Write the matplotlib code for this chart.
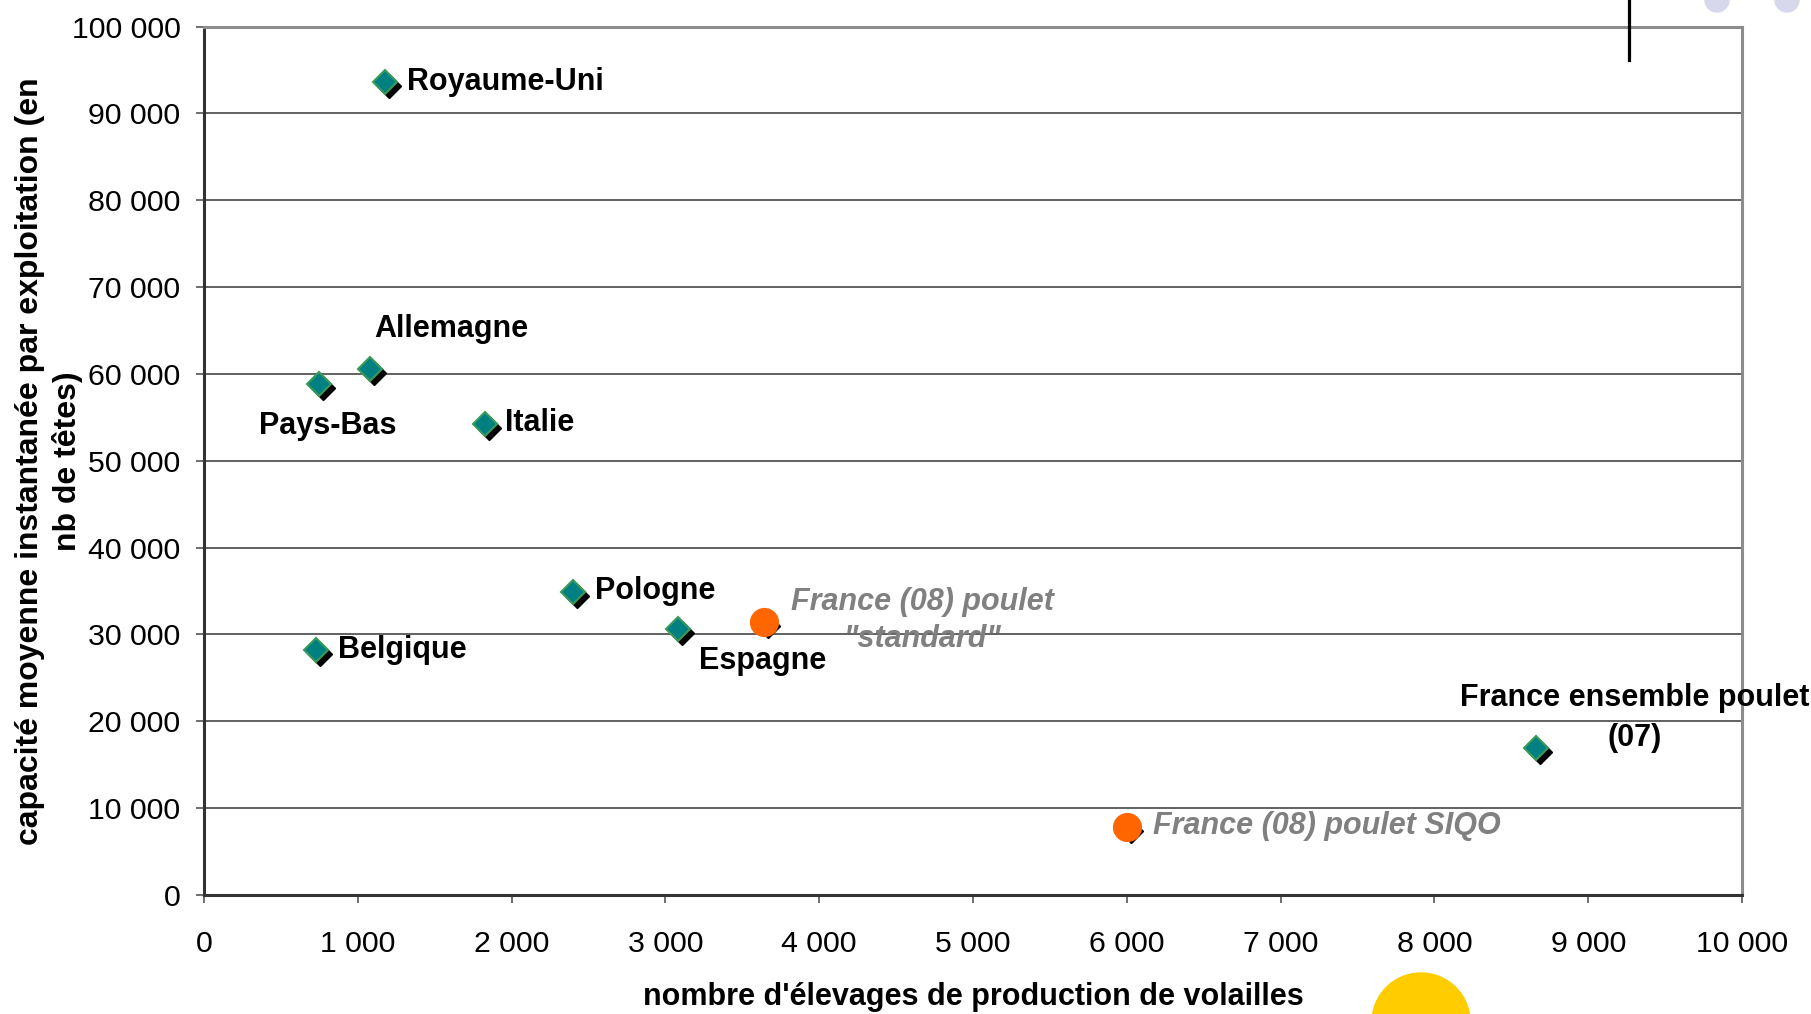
import matplotlib
matplotlib.use("Agg")
import matplotlib.pyplot as plt
import matplotlib.transforms as mtransforms
from matplotlib.patches import Circle
from matplotlib.lines import Line2D

plt.rcParams['font.family'] = ['Liberation Sans', 'DejaVu Sans']

# ---- data ----
countries = ["Royaume-Uni", "Allemagne", "Pays-Bas", "Italie", "Pologne",
             "Espagne", "Belgique", "France ensemble poulet\n(07)"]
n_farms = [1180, 1080, 750, 1830, 2400, 3080, 730, 8660]
capacity = [93600, 60600, 58900, 54200, 34900, 30600, 28200, 16900]

france08_labels = ["France (08) poulet\n\"standard\"", "France (08) poulet SIQO"]
france08_farms = [3640, 6000]
france08_capacity = [31400, 7800]

# label anchor positions (data coords) and alignment
label_pos = [(1320, 93600, 'left'), (1110, 65200, 'left'), (360, 54000, 'left'),
             (1960, 54300, 'left'), (2540, 35000, 'left'), (3220, 26900, 'left'),
             (870, 28200, 'left'), (9300, 20400, 'center')]
f08_label_pos = [(4670, 31600, 'center'), (6170, 7900, 'left')]

xticks = list(range(0, 10001, 1000))
yticks = list(range(0, 100001, 10000))

def fmt(v):
    return f"{v:,}".replace(",", " ")

W, H = 1811, 1014
fig = plt.figure(figsize=(W / 100, H / 100), dpi=100)
ax = fig.add_axes([204 / W, 1 - 895 / H, (1742 - 204) / W, (895 - 26.6) / H])

ax.set_xlim(0, 10000)
ax.set_ylim(0, 100000)
ax.set_xticks(xticks)
ax.set_yticks(yticks)
ax.set_xticklabels([fmt(v) for v in xticks], fontsize=21.8)
ax.set_yticklabels([fmt(v) for v in yticks], fontsize=21.8)
ax.tick_params(axis='x', direction='out', length=6, width=1.2, color='#555555', pad=19)
ax.tick_params(axis='y', direction='out', length=6, width=1.2, color='#555555', pad=11)
ax.yaxis.grid(True, color='#555555', lw=1.3)
ax.set_axisbelow(True)
for s in ax.spines.values():
    s.set_color('#8c8c8c')
    s.set_linewidth(2.2)
ax.spines['left'].set_color('#333333')
ax.spines['bottom'].set_color('#333333')

# shadow offset
shadow = ax.transData + mtransforms.ScaledTranslation(4 / 100, -4 / 100, fig.dpi_scale_trans)
all_x = n_farms + france08_farms
all_y = capacity + france08_capacity
ax.plot(all_x, all_y, ls='none', marker='D', ms=12.5, mfc='black', mec='black',
        transform=shadow, zorder=3, clip_on=False)
ax.plot(all_x, all_y, ls='none', marker='D', ms=12.5, mfc='#008080', mec='#3a9a5c',
        mew=1.5, zorder=4, clip_on=False)
ax.plot(france08_farms, france08_capacity, ls='none', marker='o', ms=20,
        mfc='#ff6600', mec='#ff6600', zorder=5, clip_on=False)

for lab, (x, y, ha) in zip(countries, label_pos):
    ax.text(x, y, lab, ha=ha, va='center', fontsize=22, fontweight='bold',
            color='black', multialignment='center', linespacing=1.42, clip_on=False, zorder=6)
for lab, (x, y, ha) in zip(france08_labels, f08_label_pos):
    ax.text(x, y, lab, ha=ha, va='center', fontsize=22, fontweight='bold',
            fontstyle='italic', color='#808080', multialignment='center',
            linespacing=1.32, clip_on=False, zorder=6)

fig.text(973 / W, 1 - 997 / H, "nombre d'élevages de production de volailles",
         ha='center', va='center', fontsize=22, fontweight='bold')
fig.text(49 / W, 1 - 461 / H,
         "capacité moyenne instantanée par exploitation (en\nnb de têtes)",
         ha='center', va='center', rotation=90, fontsize=23, fontweight='bold',
         multialignment='center', linespacing=1.3)

# decorations (pixel coords)
ident = mtransforms.IdentityTransform()
fig.add_artist(Line2D([1629, 1629], [H, H - 60], color='black', lw=2.3, transform=ident))
for cx in (1717, 1787):
    fig.add_artist(Circle((cx, H), 12, color='#d8d8ec', transform=ident))
fig.add_artist(Circle((1421, -8), 49, color='#ffcc00', transform=ident))

fig.savefig("out.png", dpi=100)
